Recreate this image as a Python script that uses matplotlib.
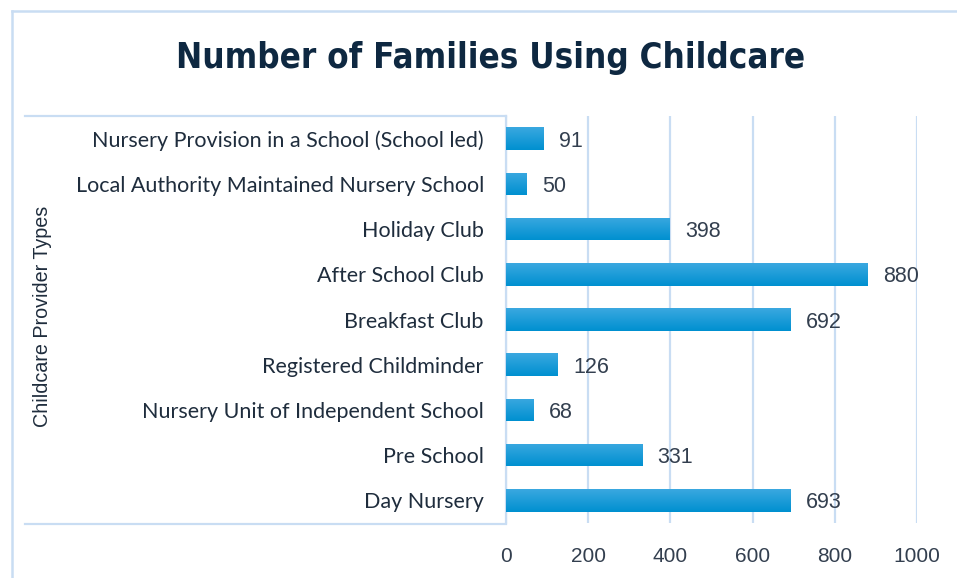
import matplotlib.pyplot as plt
from matplotlib.lines import Line2D
from matplotlib.colors import LinearSegmentedColormap
import numpy as np

# data, top to bottom in the picture
categories = ['Nursery Provision in a School (School led)',
              'Local Authority Maintained Nursery School',
              'Holiday Club',
              'After School Club',
              'Breakfast Club',
              'Registered Childminder',
              'Nursery Unit of Independent School',
              'Pre School',
              'Day Nursery']
families = [91, 50, 398, 880, 692, 126, 68, 331, 693]
xticks = [0, 200, 400, 600, 800, 1000]

W, H = 957, 578
fig = plt.figure(figsize=(W / 100, H / 100), dpi=100)

# pixel -> figure fraction (y measured from top)
def fx(x):
    return x / W

def fy(y):
    return 1 - y / H

line_col = '#c9ddf3'
text_col = '#1f2d3d'

ax = fig.add_axes([fx(506), fy(523), fx(917) - fx(506), fy(116) - fy(523)])

ypos = np.arange(len(categories))[::-1]
bars = ax.barh(ypos, families, height=0.5, color='#0a97d6', zorder=3)

# light-to-dark vertical gradient on each bar
grad = np.linspace(0, 1, 50).reshape(-1, 1)
cmap = LinearSegmentedColormap.from_list('bar', ['#0090d0', '#3aa8e0'])
for b in bars:
    x0, y0 = b.get_x(), b.get_y()
    im = ax.imshow(grad, cmap=cmap, aspect='auto', origin='lower',
                   extent=[x0, x0 + b.get_width(), y0, y0 + b.get_height()],
                   zorder=4)
    im.set_clip_path(b)

for y, v in zip(ypos, families):
    ax.annotate(str(v), (v, y), xytext=(11, 0), textcoords='offset points',
                va='center_baseline', ha='left', fontsize=15.5, color='#333f4f',
                family='Liberation Sans')

ax.set_xlim(0, 1000)
ax.set_ylim(-0.5, len(categories) - 0.5)
ax.set_xticks(xticks)
ax.set_xticklabels([str(t) for t in xticks], family='Liberation Sans',
                   fontsize=15, color='#333f4f')
ax.set_yticks(ypos)
ax.set_yticklabels(categories, family='Lato', fontsize=15.5, color=text_col)
ax.tick_params(axis='both', length=0)
ax.tick_params(axis='y', pad=16)
ax.tick_params(axis='x', pad=17)
ax.grid(axis='x', color=line_col, linewidth=1.6, zorder=0)
ax.set_axisbelow(True)
for s in ['top', 'right', 'bottom']:
    ax.spines[s].set_visible(False)
ax.spines['left'].set_color(line_col)
ax.spines['left'].set_linewidth(1.6)

# box around the category labels
for yy in (116, 524):
    fig.add_artist(Line2D([fx(25), fx(506)], [fy(yy), fy(yy)],
                          color=line_col, linewidth=1.6))

# outer chart border (left and top)
fig.add_artist(Line2D([fx(12), fx(12)], [fy(11), 0], color=line_col, linewidth=1.8))
fig.add_artist(Line2D([fx(12), 1], [fy(11), fy(11)], color=line_col, linewidth=1.8))

fig.text(fx(491), fy(58), 'Number of Families Using Childcare',
         ha='center', va='center', fontsize=25, fontweight='bold',
         fontstretch='condensed', color='#0e2841', family='DejaVu Sans')

fig.text(fx(43), fy(316), 'Childcare Provider Types', rotation=90,
         ha='center', va='center', fontsize=14.2, color=text_col,
         family='Liberation Sans')

fig.savefig('out.png', dpi=100)
